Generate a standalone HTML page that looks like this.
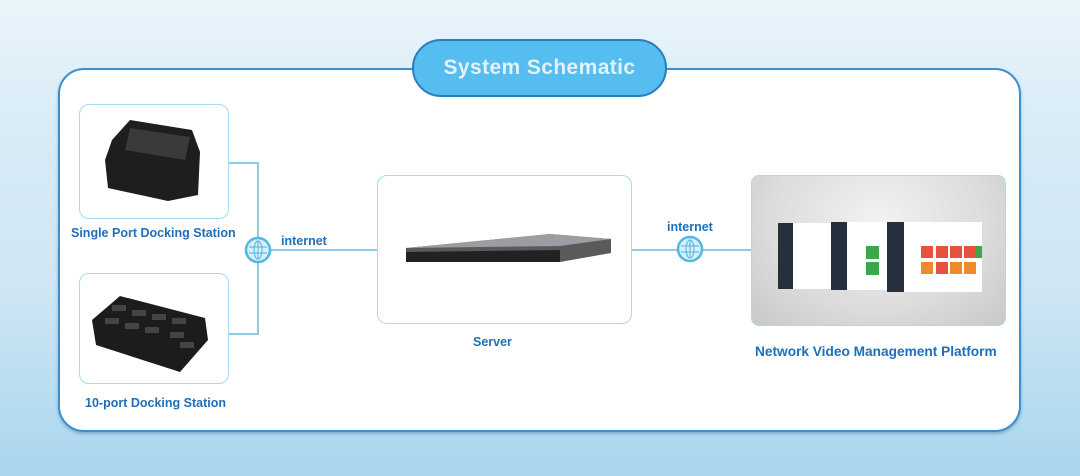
<!DOCTYPE html>
<html><head><meta charset="utf-8"><style>
*{margin:0;padding:0;box-sizing:border-box}
body{width:1080px;height:476px;overflow:hidden;position:relative;font-family:"Liberation Sans",Arial,sans-serif;
background:linear-gradient(180deg,#eaf4fa 0%,#d6ebf6 30%,#cfe6f4 60%,#a9d6ee 100%);}
.abs{position:absolute}
.panel{left:58px;top:68px;width:963px;height:364px;background:#fff;border:2px solid #3a8fcc;border-radius:26px;box-shadow:0 2px 3px rgba(30,90,150,.35)}
.pill{left:412px;top:39px;width:255px;height:58px;background:#55bdef;border:2px solid #2a7dbd;border-radius:29px;color:#e4f1fb;font-weight:bold;font-size:21px;text-align:center;line-height:54px;letter-spacing:.4px}
.box{border:1.5px solid #a6dcef;border-radius:10px;background:#fff}
.lbl{color:#1f6fb8;font-weight:bold;font-size:12.5px;white-space:nowrap}
.ln{background:#8ccbe6}
</style></head><body>
<div class="abs panel"></div>
<div class="abs pill">System Schematic</div>

<div class="abs box" style="left:79px;top:104px;width:150px;height:115px"></div>
<div class="abs box" style="left:79px;top:273px;width:150px;height:111px"></div>
<div class="abs box" style="left:377px;top:175px;width:255px;height:149px"></div>
<div class="abs" style="left:751px;top:175px;width:255px;height:151px;border-radius:8px;border:1.5px solid #a6dcef;background:radial-gradient(ellipse at 50% 30%,#f2f2f2 0%,#dcdcdc 60%,#c8c8c8 100%)"></div>

<div class="abs ln" style="left:229px;top:162px;width:29px;height:2px"></div>
<div class="abs ln" style="left:229px;top:333px;width:29px;height:2px"></div>
<div class="abs ln" style="left:257px;top:162px;width:2px;height:173px"></div>
<div class="abs ln" style="left:258px;top:249px;width:119px;height:2px"></div>
<div class="abs ln" style="left:632px;top:249px;width:119px;height:2px"></div>

<svg class="abs" style="left:0;top:0" width="1080" height="476">
<g fill="#d9f0fa" stroke="#55b8e3" stroke-width="2.6">
<circle cx="258" cy="250" r="12"/><circle cx="690" cy="249" r="12"/></g>
<g fill="none" stroke="#5fbde5" stroke-width="1.2">
<ellipse cx="258" cy="250" rx="4" ry="9"/><line x1="249" y1="247" x2="267" y2="247"/><line x1="249" y1="253" x2="267" y2="253"/><line x1="258" y1="241" x2="258" y2="259"/>
<ellipse cx="690" cy="249" rx="4" ry="9"/><line x1="681" y1="246" x2="699" y2="246"/><line x1="681" y1="252" x2="699" y2="252"/><line x1="690" y1="240" x2="690" y2="258"/>
</g>
<path d="M112 140 L130 120 L192 130 L200 152 L198 195 L168 201 L108 188 L105 160 Z" fill="#1e1e1e"/>
<path d="M130 128 L190 137 L185 160 L125 150 Z" fill="#3a3a3a"/>
<path d="M92 320 L120 296 L205 318 L208 340 L180 372 L96 345 Z" fill="#1c1c1c"/>
<g fill="#444"><rect x="112" y="305" width="14" height="6"/><rect x="132" y="310" width="14" height="6"/><rect x="152" y="314" width="14" height="6"/><rect x="172" y="318" width="14" height="6"/><rect x="105" y="318" width="14" height="6"/><rect x="125" y="323" width="14" height="6"/><rect x="145" y="327" width="14" height="6"/><rect x="170" y="332" width="14" height="6"/><rect x="180" y="342" width="14" height="6"/></g>
<path d="M406 248 L550 234 L611 239 L611 253 L560 262 L406 262 Z" fill="#5a5a5a"/>
<path d="M406 248 L550 234 L611 239 L560 246 Z" fill="#9a9da2"/>
<path d="M406 252 L560 250 L560 262 L406 262 Z" fill="#222"/>
<rect x="778" y="223" width="58" height="66" fill="#fff"/><rect x="778" y="223" width="15" height="66" fill="#26303c"/>
<rect x="831" y="222" width="65" height="68" fill="#fff"/><rect x="831" y="222" width="16" height="68" fill="#26303c"/>
<rect x="866" y="246" width="13" height="13" fill="#3aa84a"/><rect x="866" y="262" width="13" height="13" fill="#3aa84a"/>
<rect x="887" y="222" width="95" height="70" fill="#fff"/><rect x="887" y="222" width="17" height="70" fill="#26303c"/>
<g fill="#e7523f"><rect x="921" y="246" width="12" height="12"/><rect x="936" y="246" width="12" height="12"/><rect x="950" y="246" width="12" height="12"/><rect x="964" y="246" width="12" height="12"/><rect x="936" y="262" width="12" height="12"/></g>
<rect x="976" y="246" width="6" height="12" fill="#3aa84a"/>
<g fill="#f0892a"><rect x="921" y="262" width="12" height="12"/><rect x="950" y="262" width="12" height="12"/><rect x="964" y="262" width="12" height="12"/></g>
</svg>

<div class="abs lbl" style="left:71px;top:226px">Single Port Docking Station</div>
<div class="abs lbl" style="left:85px;top:396px">10-port Docking Station</div>
<div class="abs lbl" style="left:281px;top:234px">internet</div>
<div class="abs lbl" style="left:667px;top:220px">internet</div>
<div class="abs lbl" style="left:473px;top:335px">Server</div>
<div class="abs lbl" style="left:755px;top:344px;font-size:13.7px">Network Video Management Platform</div>
</body></html>
